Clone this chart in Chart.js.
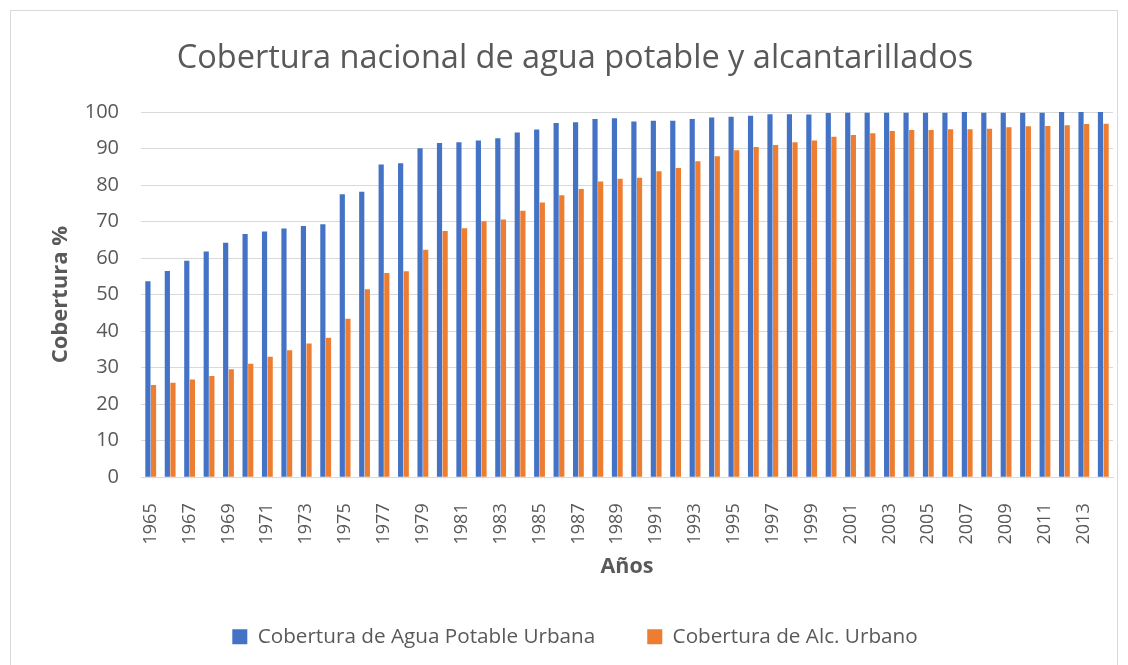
<!DOCTYPE html>
<html><head><meta charset="utf-8">
<script src="https://cdn.jsdelivr.net/npm/chart.js@4/dist/chart.umd.min.js"></script>
<style>
html,body{margin:0;padding:0;background:#fff;overflow:hidden;}
#wrap{position:absolute;left:10px;top:10px;width:1108px;height:670px;border:1px solid #d9d9d9;box-sizing:border-box;}
</style></head><body>
<div id="wrap"><canvas id="c"></canvas></div>
<script>
const years = [];
for (let y = 1965; y <= 2014; y++) years.push(String(y));
const aguaPotable = [53.7,56.5,59.3,61.8,64.2,66.6,67.3,68.1,68.8,69.3,
  77.5,78.2,85.6,86.0,90.1,91.5,91.7,92.2,92.8,94.4,
  95.2,97.0,97.2,98.1,98.3,97.4,97.6,97.6,98.1,98.5,
  98.7,99.0,99.4,99.4,99.3,99.7,99.8,99.8,99.8,99.8,
  99.8,99.8,100,99.8,99.8,99.8,99.8,100,100,100];
const alcantarillado = [25.3,25.9,26.8,27.7,29.6,31.1,33.0,34.8,36.6,38.2,
  43.4,51.5,55.9,56.4,62.3,67.4,68.2,70.1,70.6,73.0,
  75.2,77.2,78.9,81.0,81.7,82.0,83.8,84.7,86.5,87.9,
  89.5,90.4,91.0,91.7,92.2,93.2,93.7,94.2,94.8,95.1,
  95.1,95.3,95.3,95.4,95.8,96.1,96.2,96.4,96.7,96.8];
const yTicks = [0,10,20,30,40,50,60,70,80,90,100];
const grey = '#595959';
const FONT = "'Open Sans', sans-serif";

const cv = document.getElementById('c');
cv.width = 1106; cv.height = 668;
cv.style.width = '1106px'; cv.style.height = '668px';

new Chart(cv, {
  type: 'bar',
  data: {
    labels: years,
    datasets: [
      {label: 'Cobertura de Agua Potable Urbana', data: aguaPotable, backgroundColor: '#4472c4', categoryPercentage: 0.58, barPercentage: 0.92},
      {label: 'Cobertura de Alc. Urbano', data: alcantarillado, backgroundColor: '#ed7d31', categoryPercentage: 0.58, barPercentage: 0.92}
    ]
  },
  options: {
    responsive: false,
    animation: false,
    devicePixelRatio: 1,
    layout: {padding: {left: 26, right: 4, top: 18, bottom: 22}},
    plugins: {
      title: {display: true, text: 'Cobertura nacional de agua potable y alcantarillados', color: grey,
        font: {family: FONT, size: 32.5, weight: 'normal'}, padding: {top: 10, bottom: 34}},
      legend: {position: 'bottom', labels: {color: grey, font: {family: FONT, size: 20.7}, boxWidth: 15, boxHeight: 15, padding: 52}},
      tooltip: {enabled: false}
    },
    scales: {
      x: {
        grid: {display: false, drawTicks: false},
        border: {color: '#d9d9d9'},
        afterFit: function(s){ s.paddingLeft = 0; s.paddingRight = 0; s.height = 97; },
        ticks: {color: grey, font: {family: FONT, size: 18}, autoSkip: false, minRotation: 90, maxRotation: 90, padding: 26,
          callback: function(v, i){ return i % 2 === 0 ? years[i] : ''; }},
        title: {display: true, text: 'Años', color: grey, font: {family: FONT, size: 21.5, weight: 'bold'}, padding: {top: 10, bottom: -5}}
      },
      y: {
        min: 0, max: 100,
        afterBuildTicks: function(ax){ ax.ticks = yTicks.map(v => ({value: v})); },
        afterFit: function(s){ s.width = 104; },
        grid: {color: '#d9d9d9', drawTicks: false},
        border: {display: false},
        ticks: {color: grey, font: {family: FONT, size: 20}, padding: 22},
        title: {display: true, text: 'Cobertura %', color: grey, font: {family: FONT, size: 22, weight: 'bold'}, padding: {top: 11, bottom: 9}}
      }
    }
  }
});
</script></body></html>
